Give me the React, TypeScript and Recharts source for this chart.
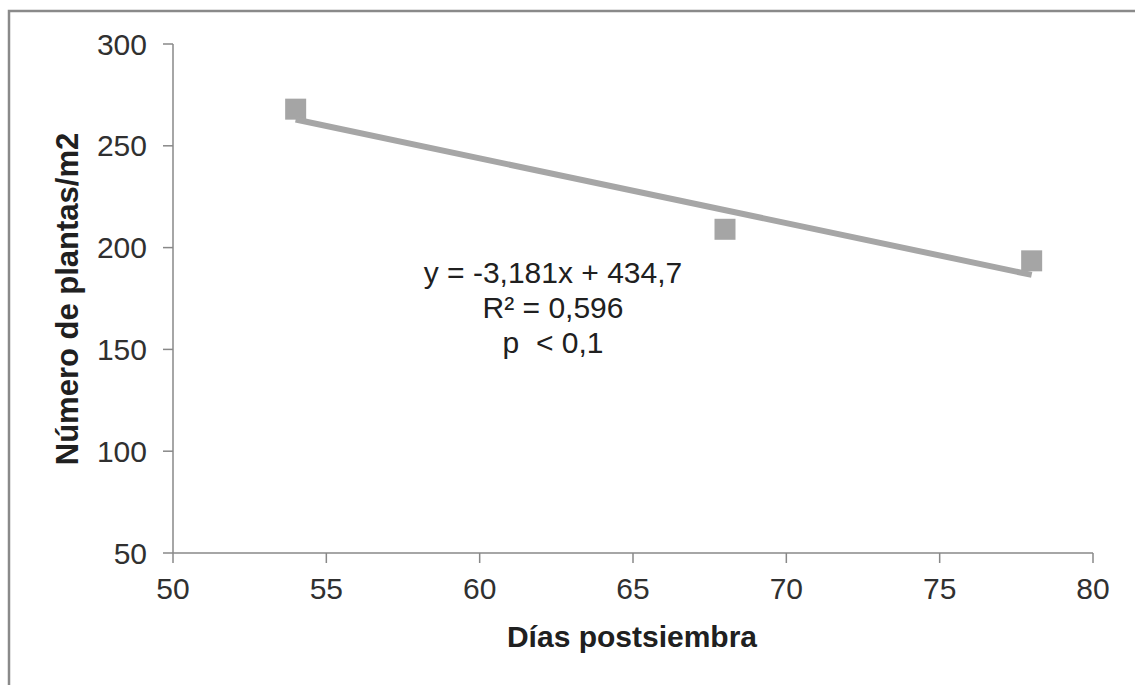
import React from "react";
import { Scatter, ScatterChart, XAxis, YAxis } from "recharts";

// values
const xTicks = [50, 55, 60, 65, 70, 75, 80];
const yTicks = [50, 100, 150, 200, 250, 300];

const observed = [
  { x: 54, y: 268 },
  { x: 68, y: 209 },
  { x: 78, y: 193.5 },
];

// linear trend line ends (y = -3,181x + 434,7)
const trend = [
  { x: 54, y: 262.9 },
  { x: 78, y: 186.6 },
];

const equationLines = ["y = -3,181x + 434,7", "R² = 0,596", "p\u00A0 < 0,1"];

const FONT = '"Liberation Sans", Arial, sans-serif';
const GREY = "#a5a5a5";
const AXIS = "#888888";

const SquareMarker = (props: { cx?: number; cy?: number }) => {
  const { cx = 0, cy = 0 } = props;
  return <rect x={cx - 10.5} y={cy - 10.5} width={21} height={21} fill={GREY} />;
};

const NoMarker = () => <g />;

export default function App() {
  const tick = { fontSize: 30, fill: "#303030", fontFamily: FONT };
  return (
    <div style={{ position: "absolute", left: 0, top: 0, width: 1135, height: 685, background: "#fff", overflow: "hidden" }}>
      <ScatterChart width={1135} height={685} margin={{ top: 44, right: 42, bottom: 0, left: 0 }}>
        <XAxis
          type="number"
          dataKey="x"
          domain={[50, 80]}
          ticks={xTicks}
          height={132}
          tickSize={10}
          tickMargin={15}
          tick={tick}
          axisLine={{ stroke: AXIS, strokeWidth: 1.5 }}
          tickLine={{ stroke: AXIS, strokeWidth: 1.5 }}
          allowDataOverflow
        />
        <YAxis
          type="number"
          dataKey="y"
          domain={[50, 300]}
          ticks={yTicks}
          width={173}
          tickSize={10}
          tickMargin={16}
          tick={tick}
          axisLine={{ stroke: AXIS, strokeWidth: 1.5 }}
          tickLine={{ stroke: AXIS, strokeWidth: 1.5 }}
          allowDataOverflow
        />
        <Scatter data={observed} fill={GREY} shape={<SquareMarker />} isAnimationActive={false} />
        <Scatter
          data={trend}
          line={{ stroke: "#a6a6a6", strokeWidth: 6 }}
          lineType="joint"
          shape={<NoMarker />}
          isAnimationActive={false}
        />
      </ScatterChart>
      <svg
        width={1135}
        height={685}
        style={{ position: "absolute", left: 0, top: 0, pointerEvents: "none" }}
        fontFamily={FONT}
      >
        <rect x={9} y={11} width={1200} height={800} fill="none" stroke="#8a8a8a" strokeWidth={2.5} />
        {equationLines.map((t, i) => (
          <text key={i} x={553} y={283 + i * 35} fontSize={30} fill="#202020" textAnchor="middle">
            {t}
          </text>
        ))}
        <text x={632} y={647} fontSize={30} fontWeight="bold" fill="#202020" textAnchor="middle">
          Días postsiembra
        </text>
        <text
          x={78}
          y={299}
          fontSize={31}
          fontWeight="bold"
          fill="#202020"
          textAnchor="middle"
          transform="rotate(-90, 78, 299)"
        >
          Número de plantas/m2
        </text>
      </svg>
    </div>
  );
}
